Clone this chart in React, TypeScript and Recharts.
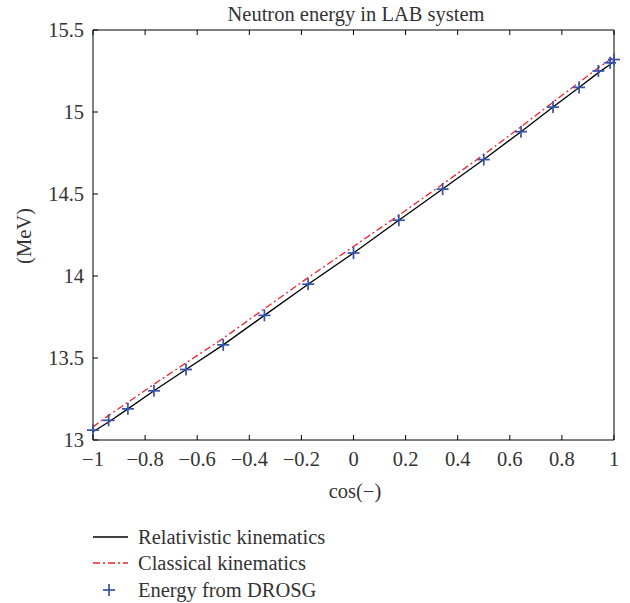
import React from 'react'
import { ComposedChart, Line, XAxis, YAxis } from 'recharts'

// cos(theta) of the DROSG angles (180 deg .. 0 deg)
const cosTheta = [-1, -0.94, -0.866, -0.766, -0.643, -0.5, -0.342, -0.174, 0, 0.174, 0.342, 0.5, 0.643, 0.766, 0.866, 0.94, 0.985, 1]
const relativistic = [13.05, 13.11, 13.19, 13.3, 13.43, 13.58, 13.76, 13.95, 14.14, 14.34, 14.53, 14.71, 14.88, 15.03, 15.15, 15.24, 15.29, 15.31]
const classical = [13.08, 13.15, 13.23, 13.34, 13.47, 13.62, 13.8, 13.99, 14.18, 14.37, 14.56, 14.74, 14.91, 15.06, 15.18, 15.27, 15.32, 15.34]
const drosg = [13.06, 13.12, 13.19, 13.3, 13.43, 13.58, 13.76, 13.95, 14.14, 14.34, 14.53, 14.71, 14.88, 15.03, 15.15, 15.25, 15.3, 15.32]

const xTicks = [-1, -0.8, -0.6, -0.4, -0.2, 0, 0.2, 0.4, 0.6, 0.8, 1]
const yTicks = [13, 13.5, 14, 14.5, 15, 15.5]

const data = cosTheta.map((c, i) => ({
  cos: c,
  rel: relativistic[i],
  cls: classical[i],
  drosg: drosg[i],
}))

const FONT = '"Liberation Serif", "DejaVu Serif", serif'
const FS = 20.5
const TEXT = '#333'
const BLUE = '#3352a8'
const RED = '#e8252f'
const DASH = '7 3 2 3'
const TICK = 5

const txt = { fontFamily: FONT, fontSize: FS, fill: TEXT }

const fmt = (v: number) => (v < 0 ? '\u2212' + Math.abs(v) : String(v))

const BottomTick = (props: any) => {
  const { x, y, payload } = props
  return (
    <g>
      <line x1={x} y1={y} x2={x} y2={y - TICK} stroke="#000" />
      <text x={x} y={y + 26} textAnchor="middle" style={txt}>
        {fmt(payload.value)}
      </text>
    </g>
  )
}

const TopTick = (props: any) => {
  const { x, y } = props
  return <line x1={x} y1={y} x2={x} y2={y + TICK} stroke="#000" />
}

const LeftTick = (props: any) => {
  const { x, y, payload } = props
  return (
    <g>
      <line x1={x} y1={y} x2={x + TICK} y2={y} stroke="#000" />
      <text x={x - 9} y={y + 7} textAnchor="end" style={txt}>
        {fmt(payload.value)}
      </text>
    </g>
  )
}

const RightTick = (props: any) => {
  const { x, y } = props
  return <line x1={x} y1={y} x2={x - TICK} y2={y} stroke="#000" />
}

const Plus = (props: any) => {
  const { cx, cy } = props
  if (cx == null || cy == null) return null
  return (
    <g stroke={BLUE} strokeWidth={1.7}>
      <line x1={cx - 6} y1={cy} x2={cx + 6} y2={cy} />
      <line x1={cx} y1={cy - 6} x2={cx} y2={cy + 6} />
    </g>
  )
}

export default function App() {
  return (
    <div style={{ position: 'absolute', left: 0, top: 0, width: 630, height: 603, background: '#fff' }}>
      <ComposedChart
        width={630}
        height={470}
        data={data}
        margin={{ top: 0, right: 0, bottom: 0, left: 0 }}
      >
        <XAxis
          dataKey="cos"
          type="number"
          domain={[-1, 1]}
          ticks={xTicks}
          height={30}
          tickSize={0}
          tickMargin={0}
          tickLine={false}
          axisLine={{ stroke: '#000' }}
          tick={<BottomTick />}
          interval={0}
        />
        <XAxis
          xAxisId="top"
          dataKey="cos"
          type="number"
          orientation="top"
          domain={[-1, 1]}
          ticks={xTicks}
          height={30}
          tickSize={0}
          tickMargin={0}
          tickLine={false}
          axisLine={{ stroke: '#000' }}
          tick={<TopTick />}
          interval={0}
        />
        <YAxis
          type="number"
          domain={[13, 15.5]}
          ticks={yTicks}
          width={93}
          tickSize={0}
          tickMargin={0}
          tickLine={false}
          axisLine={{ stroke: '#000' }}
          tick={<LeftTick />}
          interval={0}
        />
        <YAxis
          yAxisId="right"
          orientation="right"
          type="number"
          domain={[13, 15.5]}
          ticks={yTicks}
          width={16}
          tickSize={0}
          tickMargin={0}
          tickLine={false}
          axisLine={{ stroke: '#000' }}
          tick={<RightTick />}
          interval={0}
        />
        <Line
          dataKey="rel"
          type="linear"
          stroke="#000"
          strokeWidth={1.3}
          dot={false}
          activeDot={false}
          isAnimationActive={false}
        />
        <Line
          dataKey="cls"
          type="linear"
          stroke={RED}
          strokeWidth={1.3}
          strokeDasharray={DASH}
          dot={false}
          activeDot={false}
          isAnimationActive={false}
        />
        <Line
          dataKey="drosg"
          type="linear"
          stroke="none"
          dot={<Plus />}
          activeDot={false}
          isAnimationActive={false}
        />
      </ComposedChart>
      <svg width={630} height={603} style={{ position: 'absolute', left: 0, top: 0, pointerEvents: 'none' }}>
        <text x={356} y={21} textAnchor="middle" style={txt}>
          Neutron energy in LAB system
        </text>
        <text x={355} y={498} textAnchor="middle" style={txt}>
          cos(−)
        </text>
        <text x={31} y={236} textAnchor="middle" style={txt} transform="rotate(-90 31 236)">
          (MeV)
        </text>
        <line x1={93} y1={537} x2={128} y2={537} stroke="#000" strokeWidth={1.3} />
        <text x={138} y={544} style={txt}>Relativistic kinematics</text>
        <line x1={93} y1={563} x2={128} y2={563} stroke={RED} strokeWidth={1.3} strokeDasharray={DASH} />
        <text x={138} y={570} style={txt}>Classical kinematics</text>
        <Plus cx={109} cy={590} />
        <text x={138} y={597} style={txt}>Energy from DROSG</text>
      </svg>
    </div>
  )
}
